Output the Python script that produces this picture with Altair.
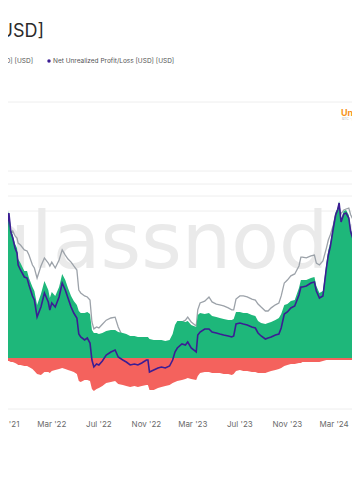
import altair as alt
import pandas as pd

# ---------------- data ----------------
dates = [
    "2021-10-18", "2021-10-25", "2021-11-01", "2021-11-05", "2021-11-10", "2021-11-15", "2021-11-20", "2021-11-26", "2021-12-01", "2021-12-04",
    "2021-12-10", "2021-12-20", "2021-12-27", "2022-01-01", "2022-01-10", "2022-01-15", "2022-01-22", "2022-02-01", "2022-02-10", "2022-02-20",
    "2022-02-24", "2022-03-01", "2022-03-10", "2022-03-20", "2022-03-28", "2022-04-05", "2022-04-12", "2022-04-20", "2022-04-27", "2022-05-05",
    "2022-05-10", "2022-05-15", "2022-05-25", "2022-06-01", "2022-06-08", "2022-06-13", "2022-06-18", "2022-06-25", "2022-07-01", "2022-07-10",
    "2022-07-20", "2022-08-01", "2022-08-12", "2022-08-20", "2022-09-01", "2022-09-10", "2022-09-20", "2022-10-01", "2022-10-10", "2022-10-20",
    "2022-11-01", "2022-11-05", "2022-11-09", "2022-11-20", "2022-12-01", "2022-12-10", "2022-12-20", "2022-12-31", "2023-01-08", "2023-01-14",
    "2023-01-20", "2023-02-01", "2023-02-10", "2023-02-16", "2023-02-25", "2023-03-10", "2023-03-14", "2023-03-20", "2023-04-01", "2023-04-12",
    "2023-04-20", "2023-05-01", "2023-05-10", "2023-05-20", "2023-06-01", "2023-06-10", "2023-06-15", "2023-06-21", "2023-07-01", "2023-07-10",
    "2023-07-20", "2023-08-01", "2023-08-10", "2023-08-17", "2023-08-25", "2023-09-05", "2023-09-12", "2023-09-20", "2023-10-01", "2023-10-10",
    "2023-10-16", "2023-10-24", "2023-11-01", "2023-11-10", "2023-11-20", "2023-12-01", "2023-12-06", "2023-12-10", "2023-12-20", "2024-01-01",
    "2024-01-10", "2024-01-15", "2024-01-23", "2024-02-01", "2024-02-10", "2024-02-15", "2024-02-20", "2024-02-28", "2024-03-05", "2024-03-10",
    "2024-03-14", "2024-03-19", "2024-03-26", "2024-04-01", "2024-04-08", "2024-04-13", "2024-04-18", "2024-04-23", "2024-05-01", "2024-05-07",
]

# Unrealized profit [USD, billions]
unrealized_profit = [
    858, 828, 810, 786, 882, 774, 738, 684, 660, 594,
    570, 522, 522, 480, 426, 402, 318, 384, 462, 408,
    360, 396, 372, 426, 504, 468, 420, 372, 342, 318,
    282, 270, 270, 276, 264, 168, 150, 150, 144, 150,
    162, 168, 168, 156, 150, 144, 132, 132, 126, 126,
    126, 126, 114, 108, 108, 108, 102, 108, 144, 198,
    222, 222, 216, 222, 198, 186, 258, 270, 264, 270,
    252, 246, 240, 234, 228, 228, 234, 276, 276, 270,
    270, 258, 252, 222, 210, 204, 210, 216, 228, 240,
    264, 318, 324, 342, 348, 420, 468, 468, 468, 480,
    486, 432, 390, 402, 570, 648, 690, 804, 876, 900,
    942, 834, 882, 888, 858, 774, 738, 798, 738, 750,
]

# Unrealized loss [USD, billions] (negative)
unrealized_loss = [
    -12, -12, -18, -18, -18, -24, -24, -30, -36, -42,
    -42, -48, -48, -54, -66, -78, -96, -102, -84, -84,
    -90, -78, -72, -66, -60, -66, -72, -78, -84, -96,
    -138, -144, -132, -132, -138, -186, -198, -186, -180, -168,
    -150, -144, -138, -156, -162, -168, -174, -168, -174, -168,
    -162, -162, -192, -192, -180, -174, -168, -162, -150, -144,
    -138, -132, -126, -120, -126, -132, -108, -90, -84, -84,
    -90, -90, -90, -96, -96, -102, -96, -78, -72, -78,
    -78, -84, -84, -90, -90, -90, -84, -78, -72, -66,
    -60, -48, -42, -36, -36, -30, -30, -24, -24, -24,
    -24, -24, -24, -18, -12, -12, -12, -12, -12, -12,
    -12, -12, -12, -12, -12, -12, -12, -12, -12, -12,
]

# Net unrealized profit/loss [USD, billions]
net_unrealized = [
    846, 816, 792, 768, 870, 756, 720, 660, 630, 558,
    528, 486, 480, 438, 372, 348, 246, 306, 390, 336,
    288, 330, 306, 366, 450, 408, 360, 306, 270, 240,
    144, 126, 108, 120, 90, -12, -54, -36, -42, -18,
    18, 36, 48, 6, -12, -24, -42, -36, -42, -30,
    -12, -12, -84, -72, -60, -54, -60, -48, -12, 36,
    60, 84, 78, 96, 60, 36, 138, 156, 174, 174,
    156, 150, 144, 138, 132, 126, 132, 204, 210, 204,
    198, 186, 180, 150, 132, 114, 120, 126, 138, 144,
    180, 264, 276, 300, 312, 378, 426, 426, 432, 450,
    456, 402, 360, 372, 540, 618, 666, 780, 858, 888,
    930, 816, 864, 870, 840, 756, 720, 780, 720, 732,
]

# Price [USD] (grey line, own log axis)
price = [
    62200, 59000, 56500, 54800, 64900, 53600, 55400, 52500, 51400, 48700,
    47700, 45300, 44800, 42900, 38600, 37400, 33600, 38200, 41600, 39400,
    38200, 39800, 37400, 40700, 45300, 42900, 41100, 39800, 38200, 36600,
    29600, 28700, 27800, 27500, 26600, 21100, 19600, 20000, 19800, 20600,
    21500, 22000, 22200, 20000, 18000, 17800, 17400, 17400, 17200, 17200,
    17200, 17200, 16000, 16200, 16400, 16500, 16400, 16500, 17400, 19400,
    20200, 21100, 21500, 22200, 21100, 20200, 24000, 25800, 26300, 27500,
    26100, 25500, 25300, 25000, 24500, 24000, 24000, 26900, 27800, 27800,
    27500, 26900, 26600, 25500, 24700, 23700, 23700, 24500, 25300, 25800,
    27800, 31900, 32900, 34400, 35100, 38200, 42000, 42000, 41600, 42500,
    42900, 39400, 38600, 40300, 46200, 50300, 53100, 59000, 66300, 69200,
    71400, 66300, 69200, 69900, 70600, 65600, 62900, 64900, 61500, 62200,
]

tick_dates = ["2021-11-01", "2022-03-01", "2022-07-01", "2022-11-01",
              "2023-03-01", "2023-07-01", "2023-11-01", "2024-03-01"]
tick_labels = ["Nov '21", "Mar '22", "Jul '22", "Nov '22",
               "Mar '23", "Jul '23", "Nov '23", "Mar '24"]

grid_values = [1536, 1122, 1044, 972, 882, -306]  # USD billions

title_text = "Bitcoin: Net Unrealized Profit/Loss [USD]"
legend_left = "Unrealized Loss [USD] [USD]"
legend_right = "Net Unrealized Profit/Loss [USD] [USD]"
annotation = "Unrealized Profit"
watermark = "glassnode"

# ---------------- chart ----------------
W, H = 344, 402
FONT = "Inter"

df = pd.DataFrame({
    "date": dates,
    "profit": unrealized_profit,
    "loss": unrealized_loss,
    "nupl": net_unrealized,
    "price": price,
})
ticks_df = pd.DataFrame({"d": tick_dates, "label": tick_labels})
grid_df = pd.DataFrame({"g": grid_values})

xscale = alt.Scale(domain=[alt.DateTime(year=2021, month=11, date=7, hours=17, utc=True),
                           alt.DateTime(year=2024, month=4, date=16, hours=7, utc=True)])
yscale = alt.Scale(domain=[-312, 2100], nice=False, zero=False)
pscale = alt.Scale(type="log", domain=[8291, 589400], nice=False)

X = alt.X("date:T", scale=xscale, axis=None)

grid = alt.Chart(grid_df).mark_rule(color="#eeeeee", strokeWidth=1).encode(
    y=alt.Y("g:Q", scale=yscale, axis=None))

wm = alt.Chart(pd.DataFrame({"t": [watermark]})).mark_text(
    font="DejaVu Sans", fontSize=78, color="#eaeaea", align="center",
    baseline="alphabetic").encode(x=alt.value(171), y=alt.value(260), text="t:N")

gray = alt.Chart(df).mark_line(color="#9ca2a9", strokeWidth=1.3, clip=True).encode(
    x=X, y=alt.Y("price:Q", scale=pscale, axis=None))

green = alt.Chart(df).mark_area(color="#1eb77a", clip=True).encode(
    x=X, y=alt.Y("profit:Q", scale=yscale, axis=None), y2=alt.datum(0))

red = alt.Chart(df).mark_area(color="#f4625d", clip=True).encode(
    x=X, y=alt.Y("loss:Q", scale=yscale, axis=None), y2=alt.datum(0))

purple = alt.Chart(df).mark_line(color="#3b1d94", strokeWidth=1.6, clip=True).encode(
    x=X, y=alt.Y("nupl:Q", scale=yscale, axis=None))

xlabels = alt.Chart(ticks_df).mark_text(
    font=FONT, fontSize=8, color="#6a6a6a", align="center", baseline="middle").encode(
    x=alt.X("d:T", scale=xscale, axis=None), y=alt.value(417), text="label:N")

title = alt.Chart(pd.DataFrame({"t": [title_text]})).mark_text(
    font=FONT, fontSize=18, color="#2b2b2b", align="right", baseline="alphabetic").encode(
    x=alt.value(36), y=alt.value(29), text="t:N")

leg1 = alt.Chart(pd.DataFrame({"t": [legend_left]})).mark_text(
    font=FONT, fontSize=6.5, color="#555555", align="right", baseline="middle").encode(
    x=alt.value(25), y=alt.value(53), text="t:N")

leg_dot = alt.Chart(pd.DataFrame({"t": [legend_right]})).mark_point(
    filled=True, size=12, color="#3b1d94", opacity=1).encode(
    x=alt.value(41), y=alt.value(53))

leg2 = alt.Chart(pd.DataFrame({"t": [legend_right]})).mark_text(
    font=FONT, fontSize=6.5, color="#555555", align="left", baseline="middle").encode(
    x=alt.value(45), y=alt.value(53), text="t:N")

annot = alt.Chart(pd.DataFrame({"t": [annotation]})).mark_text(
    font=FONT, fontSize=9, fontWeight="bold", color="#f7931a", align="left",
    baseline="alphabetic").encode(x=alt.value(333), y=alt.value(108), text="t:N")

annot_sub = alt.Chart(pd.DataFrame({"t": ["BTC · glassnode"]})).mark_text(
    font=FONT, fontSize=3.5, color="#bbbbbb", align="left", baseline="middle").encode(
    x=alt.value(334), y=alt.value(111), text="t:N")

chart = alt.layer(
    grid, wm, gray, green, red, purple, xlabels, title, leg1, leg_dot, leg2, annot, annot_sub
).resolve_scale(y="independent").properties(
    width=W, height=H,
    padding={"left": 0, "top": 0, "right": 0, "bottom": 30},
    autosize=alt.AutoSizeParams(type="none"),
    background="white",
).configure_view(stroke=None)

chart.save("out.html", embed_options={"renderer": "svg", "actions": False})
